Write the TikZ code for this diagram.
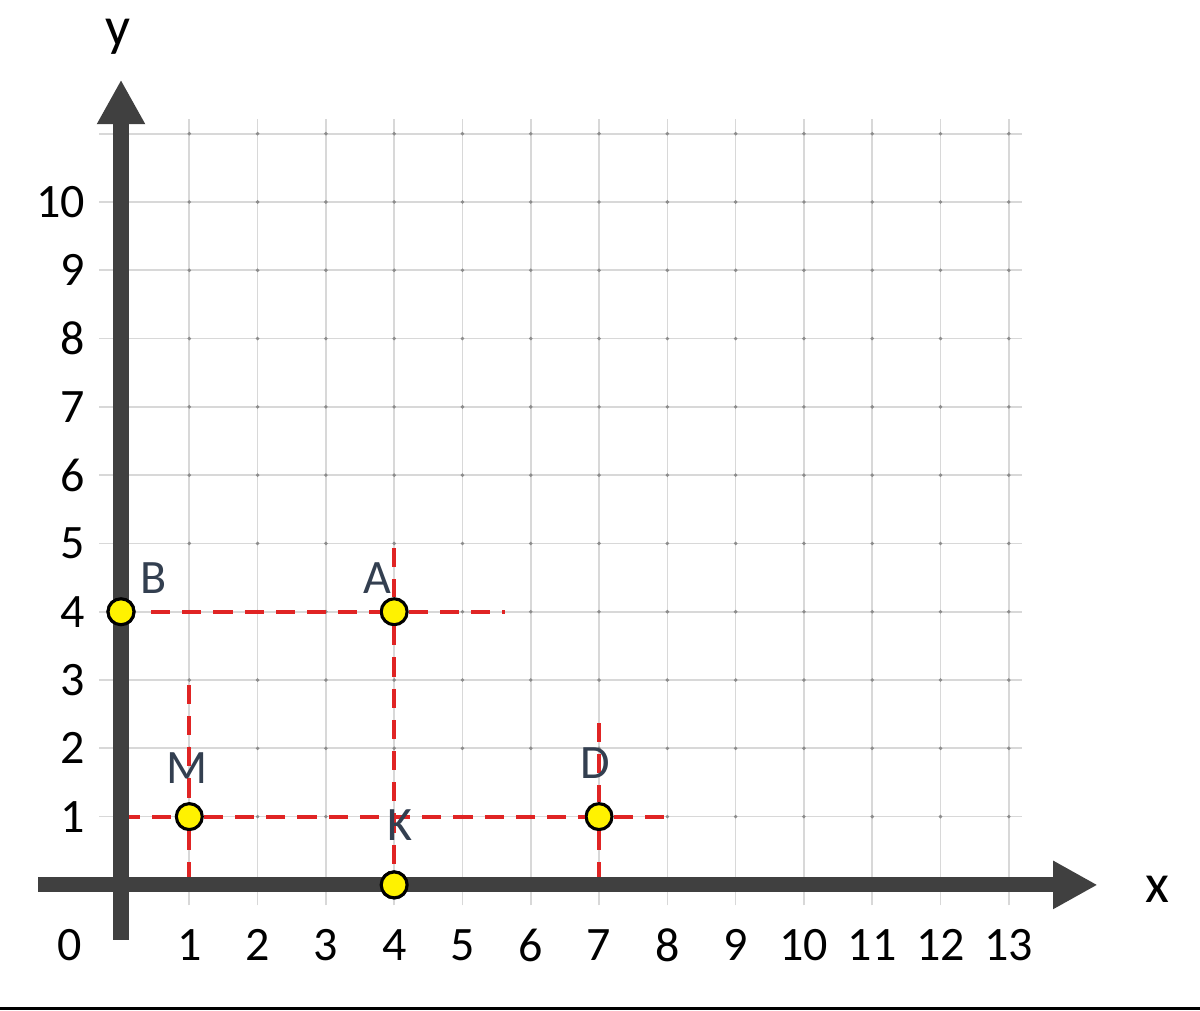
\documentclass[tikz,border=0pt]{standalone}
\usepackage{fontspec}
\setmainfont{Carlito}
\usepackage{xcolor}
\usepackage{tikz}
\usetikzlibrary{calc,arrows.meta}
\usetikzlibrary{positioning}

\definecolor{eixocinza}{HTML}{404040}
\definecolor{gradecinza}{HTML}{D8D8D8}
\definecolor{pontocinza}{HTML}{8C8C8C}
\definecolor{guiavermelho}{HTML}{E02424}
\definecolor{pontoamarelo}{HTML}{FFF200}
\definecolor{rotuloazul}{HTML}{333F50}

\begin{document}
\begin{tikzpicture}[
        gradelinha/.style={draw=gradecinza, line width=0.7pt},
        eixo/.style={draw=eixocinza, line width=0.22cm,
            -{Triangle[length=0.65cm,width=0.66cm]}},
        guia/.style={draw=guiavermelho, line width=1.6pt,
            dash pattern=on 8pt off 5pt},
        ponto/.style={circle, draw=black, fill=pontoamarelo, line width=1.3pt,
            minimum size=0.38cm, inner sep=0pt},
        rotulo/.style={font=\fontsize{20}{24}\selectfont, text=rotuloazul, inner sep=0pt},
        numero/.style={font=\fontsize{20}{24}\selectfont, text=black, inner sep=0pt}
    ]

    \useasboundingbox (-1.772,-1.845) rectangle (15.80,12.958);

    % grade
    \foreach \i in {1,...,13}
        \draw[gradelinha] (\i,-0.3) -- (\i,11.22);
    \foreach \j in {1,...,11}
        \draw[gradelinha] (-0.32,\j) -- (13.2,\j);
    \foreach \i in {1,...,13}
        \foreach \j in {1,...,11}
            \fill[pontocinza] (\i,\j) circle (0.8pt);

    % pontos
    \coordinate (origem) at (0,0);
    \node[ponto] (B) at (0,4) {};
    \node[ponto] (A) at (4,4) {};
    \node[ponto] (M) at (1,1) {};
    \node[ponto] (K) at (4,0) {};
    \node[ponto] (D) at (7,1) {};

    % extremos das linhas tracejadas
    \coordinate (guiaB) at (0.44,4);
    \coordinate (guiaAdir) at (5.62,4);
    \coordinate (guiaAtopo) at (4,4.93);
    \coordinate (guiaMtopo) at (1,2.93);
    \coordinate (guiaMbase) at (1,0);
    \coordinate (guiaUm) at (0,1);
    \coordinate (guiaDdir) at (7.95,1);
    \coordinate (guiaDtopo) at (7,2.37);
    \coordinate (guiaDbase) at (7,0.05);

    % linhas tracejadas
    \draw[guia] (guiaB) -- (A) -- (guiaAdir);
    \draw[guia] (guiaAtopo) -- (A) -- (K);
    \draw[guia] (guiaMtopo) -- (M) -- (guiaMbase);
    \draw[guia] (guiaUm) -- (M) -- (D) -- (guiaDdir);
    \draw[guia] (guiaDtopo) -- (D) -- (guiaDbase);

    % eixos
    \coordinate (xini) at (-1.21,0);
    \coordinate (xfim) at (14.3,0);
    \coordinate (yini) at (0,-0.8);
    \coordinate (yfim) at (0,11.79);
    \draw[eixo] (xini) -- (xfim);
    \draw[eixo] (yini) -- (yfim);

    % pontos por cima dos eixos
    \node[ponto] at (B) {};
    \node[ponto] at (K) {};

    \node[font=\fontsize{23}{27}\selectfont, text=black] (xnome) at (15.18,-0.07) {x};
    \node[font=\fontsize{23}{27}\selectfont, text=black] (ynome) at (-0.04,12.42) {y};

    % numeros dos eixos
    \node[numero] (zero) at (-0.75,-0.88) {0};
    \foreach \i in {1,...,13}
        \node[numero] (nx\i) at (\i,-0.88) {\i};
    \foreach \j in {1,...,10}
        \node[numero, anchor=east] (ny\j) at (-0.52,\j) {\j};

    % rotulos
    \node[rotulo] (rotB) at (0.47,4.49) {B};
    \node[rotulo] (rotA) at (3.76,4.49) {A};
    \node[rotulo] (rotM) at (0.97,1.71) {M};
    \node[rotulo] (rotD) at (6.94,1.79) {D};
    \node[rotulo] (rotK) at (4.08,0.88) {K};

    % linha inferior
    \coordinate (baseesq) at (-1.772,-1.815);
    \coordinate (basedir) at (15.80,-1.815);
    \draw[black, line width=1.2pt] (baseesq) -- (basedir);

\end{tikzpicture}
\end{document}
